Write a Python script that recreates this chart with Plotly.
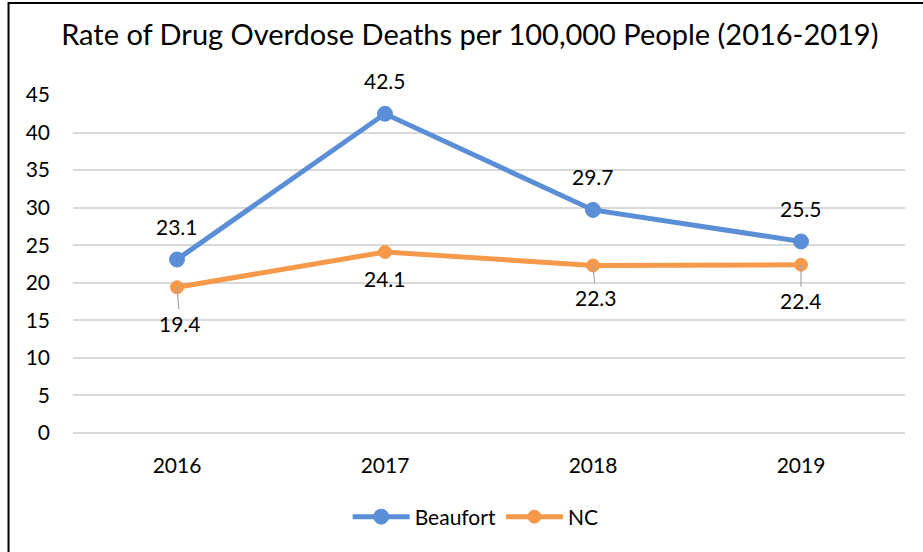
import plotly.graph_objects as go

years = ["2016", "2017", "2018", "2019"]
beaufort = [23.1, 42.5, 29.7, 25.5]
nc = [19.4, 24.1, 22.3, 22.4]
y_ticks = [0, 5, 10, 15, 20, 25, 30, 35, 40, 45]

FONT = "Lato"
BLUE = "#5A8ED6"
ORANGE = "#F6994A"

fig = go.Figure()

fig.add_trace(go.Scatter(
    x=years, y=beaufort, mode='lines+markers', name="Beaufort",
    line=dict(color=BLUE, width=5), marker=dict(color=BLUE, size=15, line=dict(color=BLUE, width=1))
))
fig.add_trace(go.Scatter(
    x=years, y=nc, mode='lines+markers', name="NC",
    line=dict(color=ORANGE, width=5), marker=dict(color=ORANGE, size=13, line=dict(color=ORANGE, width=1))
))

# data labels: Beaufort above, NC below with small leader lines
# (annotation x on a category axis = category index)
for i, v in enumerate(beaufort):
    fig.add_annotation(x=i, y=v, text=f"{v}", showarrow=False, yshift=33,
                       font=dict(family=FONT, size=21, color='black'))

nc_leader = [True, False, True, True]
nc_ax = [3, 0, 3, 0]
nc_ay = [36, 27, 32, 36]
for i, (v, lead, ax, ay) in enumerate(zip(nc, nc_leader, nc_ax, nc_ay)):
    if lead:
        fig.add_annotation(x=i, y=v, text=f"{v}", showarrow=True, arrowhead=0,
                           arrowwidth=1.2, arrowcolor='#A6A6A6', ax=ax, ay=ay, standoff=0,
                           font=dict(family=FONT, size=21, color='black'))
    else:
        fig.add_annotation(x=i, y=v, text=f"{v}", showarrow=False, yshift=-ay,
                           font=dict(family=FONT, size=21, color='black'))

# outer chart border (left + top visible)
fig.add_shape(type='rect', xref='paper', yref='paper',
              x0=-0.0775, x1=1.2, y0=-0.6, y1=1.272,
              line=dict(color='black', width=2), fillcolor='rgba(0,0,0,0)')

fig.update_layout(
    title=dict(text="Rate of Drug Overdose Deaths per 100,000 People (2016-2019)",
               x=0.509, y=0.937, xref='container', yref='container',
               xanchor='center', yanchor='middle',
               font=dict(family=FONT, size=29, color='black')),
    font=dict(family=FONT, size=21, color='black'),
    plot_bgcolor='white', paper_bgcolor='white',
    width=923, height=552,
    margin=dict(l=73, r=18, t=95, b=119),
    showlegend=True,
    legend=dict(orientation='h', x=0.484, y=0.0634, xanchor='center', yanchor='middle',
                xref='paper', yref='container', itemwidth=57,
                font=dict(family=FONT, size=21, color='black')),
)
fig.update_xaxes(type='category', range=[-0.5, 3.5], showgrid=False, showline=False,
                 zeroline=False, ticks='', ticklabelstandoff=18)
fig.update_yaxes(range=[0, 45], tickvals=y_ticks, showgrid=True, gridcolor='#D9D9D9',
                 gridwidth=1.5, zeroline=True, zerolinecolor='#D9D9D9', zerolinewidth=1.5,
                 showline=False, ticks='', ticklabelstandoff=22)

fig.write_html("out.html", config={'displayModeBar': False},
               post_script="document.body.style.margin='0';")
